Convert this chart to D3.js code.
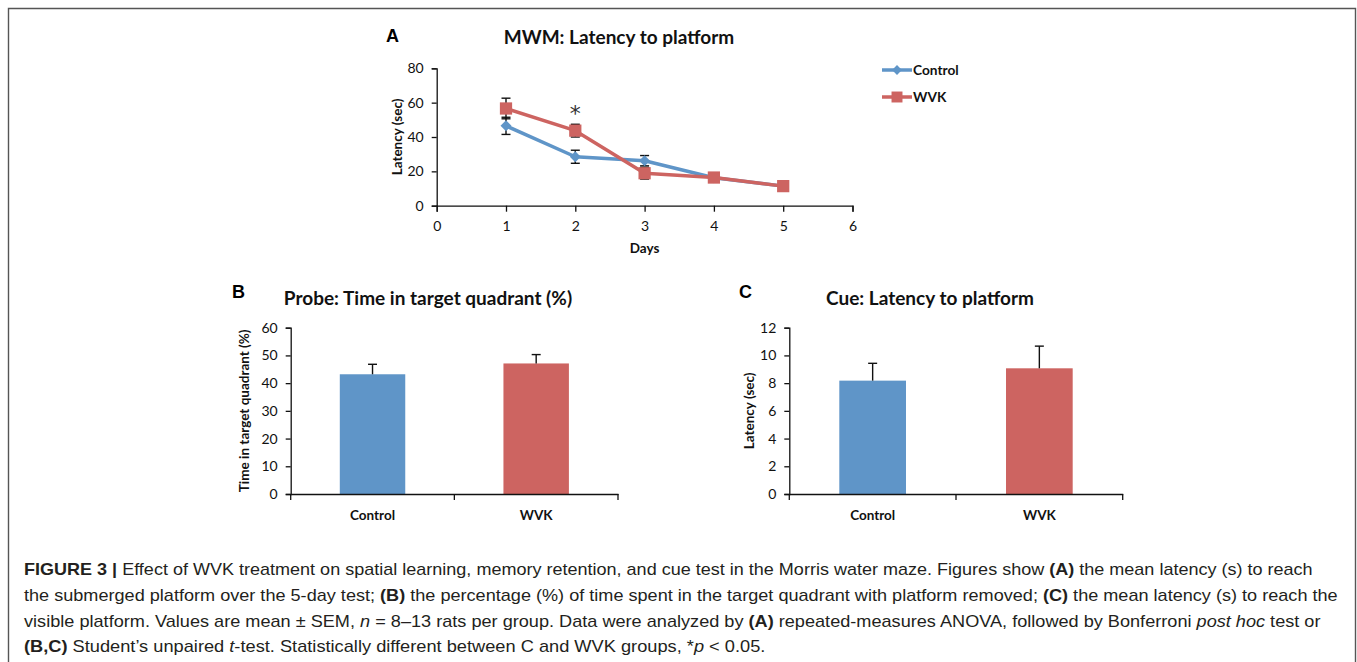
<!DOCTYPE html>
<html><head><meta charset="utf-8">
<script src="https://cdn.jsdelivr.net/npm/d3@7"></script>
<style>
html,body{margin:0;padding:0;background:#fff;}
svg{display:block;}
</style></head>
<body>
<svg id="fig" width="1357" height="662"></svg>
<script>
// ---------- DATA ----------
const days = [1, 2, 3, 4, 5];
const dayTicks = [0, 1, 2, 3, 4, 5, 6];
const controlLatency = [46.5, 28.5, 26.2, 16.3, 11.4];
const controlSem = [5.0, 3.8, 3.0, 2.3, 2.8];
const wvkLatency = [56.6, 43.7, 18.9, 16.4, 11.4];
const wvkSem = [6.0, 3.7, 3.4, 2.3, 3.0];
const latencyTicks = [0, 20, 40, 60, 80];

const groups = ["Control", "WVK"];
const probeValues = [43.2, 47.1];
const probeSem = [3.6, 3.2];
const probeTicks = [0, 10, 20, 30, 40, 50, 60];

const cueValues = [8.18, 9.07];
const cueSem = [1.25, 1.6];
const cueTicks = [0, 2, 4, 6, 8, 10, 12];

// ---------- STYLE ----------
const BLUE = "#5f95c8", RED = "#cd6461", INK = "#111";
const FONT = "Lato, 'Open Sans', sans-serif";
const svg = d3.select("#fig");

const diamond = {
  draw(ctx, size) {
    const r = Math.sqrt(size / 2);
    ctx.moveTo(0, -r); ctx.lineTo(r, 0); ctx.lineTo(0, r); ctx.lineTo(-r, 0); ctx.closePath();
  }
};

// frame
svg.append("path")
  .attr("d", "M8.5,662 L8.5,8.5 L1355.5,8.5 L1355.5,662")
  .attr("fill", "none").attr("stroke", "#555").attr("stroke-width", 1.4);

function styleAxis(g) {
  g.selectAll("path.domain").attr("stroke", INK).attr("stroke-width", 1.3);
  g.selectAll(".tick line").attr("stroke", INK).attr("stroke-width", 1.3);
  g.selectAll(".tick text").attr("font-family", FONT).attr("font-size", 14).attr("fill", INK);
}

// ---------- PANEL A ----------
const ax = d3.scaleLinear().domain([0, 6]).range([436.7, 852.5]);
const ay = d3.scaleLinear().domain([0, 80]).range([205.7, 68.3]);

const gA = svg.append("g");
gA.append("text").text("A").attr("x", 386).attr("y", 42)
  .attr("font-family", "Arial, 'Liberation Sans', sans-serif").attr("font-weight", "bold").attr("font-size", 18);
gA.append("text").text("MWM: Latency to platform").attr("x", 619).attr("y", 44)
  .attr("text-anchor", "middle").attr("font-family", FONT).attr("font-weight", "bold").attr("font-size", 19).attr("fill", INK);

gA.append("g").attr("transform", `translate(0,${ay(0)})`)
  .call(d3.axisBottom(ax).tickValues(dayTicks).tickFormat(d3.format("d")).tickSizeOuter(0).tickSize(6).tickPadding(9))
  .call(styleAxis);
gA.append("g").attr("transform", `translate(${ax(0)},0)`)
  .call(d3.axisLeft(ay).tickValues(latencyTicks).tickSizeOuter(0).tickSize(5).tickPadding(8))
  .call(styleAxis);

gA.append("text").text("Days").attr("x", ax(3)).attr("y", 253)
  .attr("text-anchor", "middle").attr("font-family", FONT).attr("font-weight", "bold").attr("font-size", 13.5).attr("fill", INK);
gA.append("text").text("Latency (sec)")
  .attr("transform", `translate(401.5,${(ay(0) + ay(80)) / 2}) rotate(-90)`)
  .attr("text-anchor", "middle").attr("font-family", FONT).attr("font-weight", "bold").attr("font-size", 13.5).attr("fill", INK);

const series = [
  { name: "Control", vals: controlLatency, sem: controlSem, color: BLUE, shape: diamond, size: 60 },
  { name: "WVK", vals: wvkLatency, sem: wvkSem, color: RED, shape: d3.symbolSquare, size: 150 }
];
const line = d3.line().x((d, i) => ax(days[i])).y(d => ay(d));

// error bars first
series.forEach(s => {
  const eg = gA.append("g");
  s.vals.forEach((v, i) => {
    const x = ax(days[i]);
    eg.append("line").attr("x1", x).attr("x2", x).attr("y1", ay(v - s.sem[i])).attr("y2", ay(v + s.sem[i]))
      .attr("stroke", INK).attr("stroke-width", 1.4);
    [v - s.sem[i], v + s.sem[i]].forEach(e => {
      eg.append("line").attr("x1", x - 4.5).attr("x2", x + 4.5).attr("y1", ay(e)).attr("y2", ay(e))
        .attr("stroke", INK).attr("stroke-width", 1.4);
    });
  });
});
series.forEach(s => {
  gA.append("path").datum(s.vals).attr("d", line).attr("fill", "none")
    .attr("stroke", s.color).attr("stroke-width", 3.5).attr("stroke-linejoin", "round");
  gA.selectAll(null).data(s.vals).enter().append("path")
    .attr("transform", (d, i) => `translate(${ax(days[i])},${ay(d)})`)
    .attr("d", d3.symbol().type(s.shape).size(s.size)).attr("fill", s.color);
});
// significance
gA.append("text").text("*").attr("x", ax(2)).attr("y", ay(wvkLatency[1] + wvkSem[1]) - 3.5)
  .attr("text-anchor", "middle").attr("font-family", "'DejaVu Sans', sans-serif").attr("font-size", 22).attr("fill", "#333");

// legend
series.forEach((s, i) => {
  const ly = 70 + i * 27;
  gA.append("line").attr("x1", 882).attr("x2", 912).attr("y1", ly).attr("y2", ly)
    .attr("stroke", s.color).attr("stroke-width", 3.5);
  gA.append("path").attr("transform", `translate(897,${ly})`)
    .attr("d", d3.symbol().type(s.shape).size(s.size * 0.8)).attr("fill", s.color);
  gA.append("text").text(s.name).attr("x", 913).attr("y", ly + 5)
    .attr("font-family", FONT).attr("font-weight", "bold").attr("font-size", 13.7).attr("fill", INK);
});

// ---------- BAR PANELS ----------
function barPanel(opt) {
  const g = svg.append("g");
  const x = d3.scaleBand().domain(groups).range([opt.x0, opt.x1]).paddingInner(0.6).paddingOuter(0.3);
  const y = d3.scaleLinear().domain([0, opt.max]).range([494, 327.7]);
  g.append("text").text(opt.letter).attr("x", opt.lx).attr("y", 298)
    .attr("font-family", "Arial, 'Liberation Sans', sans-serif").attr("font-weight", "bold").attr("font-size", 18);
  g.append("text").text(opt.title).attr("x", opt.tx).attr("y", 305).attr("text-anchor", "middle")
    .attr("font-family", FONT).attr("font-weight", "bold").attr("font-size", 19).attr("fill", INK);

  // bars
  g.selectAll(null).data(opt.values).enter().append("rect")
    .attr("x", (d, i) => x(groups[i])).attr("width", x.bandwidth())
    .attr("y", d => y(d)).attr("height", d => y(0) - y(d))
    .attr("fill", (d, i) => [BLUE, RED][i]);
  // error bars (upper only)
  opt.values.forEach((v, i) => {
    const cx = x(groups[i]) + x.bandwidth() / 2;
    g.append("line").attr("x1", cx).attr("x2", cx).attr("y1", y(v)).attr("y2", y(v + opt.sem[i]))
      .attr("stroke", INK).attr("stroke-width", 1.4);
    g.append("line").attr("x1", cx - 4.5).attr("x2", cx + 4.5).attr("y1", y(v + opt.sem[i])).attr("y2", y(v + opt.sem[i]))
      .attr("stroke", INK).attr("stroke-width", 1.4);
  });

  // axes
  const xa = g.append("g").attr("transform", `translate(0,${y(0)})`)
    .call(d3.axisBottom(x).tickSize(0).tickSizeOuter(0).tickPadding(16)).call(styleAxis);
  xa.selectAll(".tick text").attr("font-weight", "bold").attr("font-size", 13.5);
  // category boundary ticks
  const bounds = [opt.x0, (opt.x0 + opt.x1) / 2, opt.x1];
  g.selectAll(null).data(bounds).enter().append("line")
    .attr("x1", d => d).attr("x2", d => d).attr("y1", y(0)).attr("y2", y(0) + 6)
    .attr("stroke", INK).attr("stroke-width", 1.3);
  g.append("g").attr("transform", `translate(${opt.x0},0)`)
    .call(d3.axisLeft(y).tickValues(opt.ticks).tickSizeOuter(0).tickSize(5).tickPadding(8)).call(styleAxis);

  g.append("text").text(opt.ylabel)
    .attr("transform", `translate(${opt.ylx},${(y(0) + y(opt.max)) / 2}) rotate(-90)`)
    .attr("text-anchor", "middle").attr("font-family", FONT).attr("font-weight", "bold").attr("font-size", 13.5).attr("fill", INK);
}

barPanel({ x0: 290.7, x1: 618, max: 60, ticks: probeTicks, values: probeValues, sem: probeSem,
  letter: "B", lx: 232, title: "Probe: Time in target quadrant (%)", tx: 428,
  ylabel: "Time in target quadrant (%)", ylx: 248.5 });
barPanel({ x0: 789.3, x1: 1122.7, max: 12, ticks: cueTicks, values: cueValues, sem: cueSem,
  letter: "C", lx: 739, title: "Cue: Latency to platform", tx: 930,
  ylabel: "Latency (sec)", ylx: 754 });

// ---------- CAPTION ----------
const captionLines = [
  [["b", "FIGURE 3 | "], ["", "Effect of WVK treatment on spatial learning, memory retention, and cue test in the Morris water maze. Figures show "], ["b", "(A)"], ["", " the mean latency (s) to reach"]],
  [["", "the submerged platform over the 5-day test; "], ["b", "(B)"], ["", " the percentage (%) of time spent in the target quadrant with platform removed; "], ["b", "(C)"], ["", " the mean latency (s) to reach the"]],
  [["", "visible platform. Values are mean \u00b1 SEM, "], ["i", "n"], ["", " = 8\u201313 rats per group. Data were analyzed by "], ["b", "(A)"], ["", " repeated-measures ANOVA, followed by Bonferroni "], ["i", "post hoc"], ["", " test or"]],
  [["b", "(B,C)"], ["", " Student\u2019s unpaired "], ["i", "t"], ["", "-test. Statistically different between C and WVK groups, *"], ["i", "p"], ["", " < 0.05."]]
];
const captionBaselines = [575, 600.7, 626.5, 652];
const captionWidths = [1290, 1314, 1297, 742];

captionLines.forEach((parts, li) => {
  const g = svg.append("g");
  const t = g.append("text").attr("x", 0).attr("y", 0)
    .attr("font-family", "'Liberation Sans', Arial, sans-serif").attr("font-size", 16).attr("fill", "#231f20")
    .attr("xml:space", "preserve").style("white-space", "pre");
  parts.forEach(p => {
    const ts = t.append("tspan").text(p[1]);
    if (p[0] === "b") ts.attr("font-weight", "bold");
    if (p[0] === "i") ts.attr("font-style", "italic");
  });
  const w = t.node().getComputedTextLength();
  g.attr("transform", `translate(24,${captionBaselines[li]}) scale(${captionWidths[li] / w},1)`);
});
</script>
</body></html>
